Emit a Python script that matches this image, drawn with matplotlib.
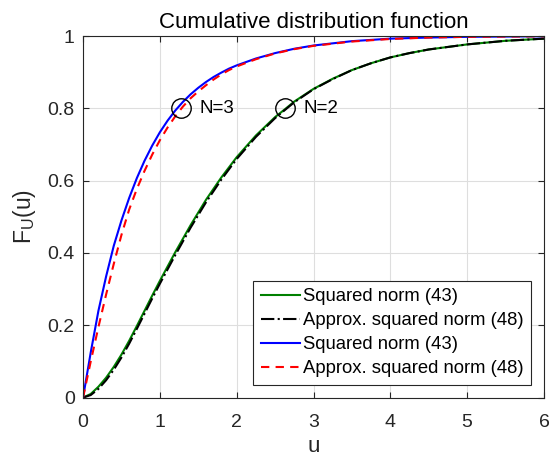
import matplotlib
matplotlib.use("Agg")
import matplotlib.pyplot as plt

plt.rcParams['font.family'] = ['Liberation Sans', 'DejaVu Sans']
plt.rcParams['mathtext.fontset'] = 'custom'
plt.rcParams['mathtext.rm'] = 'Liberation Sans'

# N = 3 curves
u_n3 = [0, 0.1, 0.2, 0.3, 0.4, 0.5, 0.6, 0.7, 0.8, 0.9, 1.0, 1.1, 1.2, 1.3, 1.4, 1.5,
        1.6, 1.7, 1.8, 1.9, 2.0, 2.25, 2.5, 2.75, 3.0, 3.5, 4.0, 4.5, 5.0, 6.0]
exact_n3 = [0, 0.125, 0.24, 0.335, 0.42, 0.49, 0.552, 0.607, 0.655, 0.697, 0.734, 0.766,
            0.794, 0.818, 0.839, 0.857, 0.873, 0.887, 0.899, 0.91, 0.919, 0.938, 0.953,
            0.965, 0.974, 0.986, 0.993, 0.996, 0.998, 0.9995]
approx_n3 = [0, 0.10, 0.195, 0.285, 0.37, 0.45, 0.52, 0.577, 0.627, 0.672, 0.712, 0.747,
             0.778, 0.805, 0.828, 0.847, 0.864, 0.88, 0.894, 0.906, 0.916, 0.936, 0.952,
             0.964, 0.973, 0.985, 0.992, 0.996, 0.998, 0.9995]

# N = 2 curves
u_n2 = [0, 0.1, 0.2, 0.3, 0.4, 0.5, 0.6, 0.7, 0.8, 0.9, 1.0, 1.2, 1.4, 1.6, 1.8, 2.0,
        2.25, 2.5, 2.63, 2.75, 3.0, 3.25, 3.5, 3.75, 4.0, 4.25, 4.5, 5.0, 5.5, 6.0]
exact_n2 = [0, 0.01, 0.03, 0.055, 0.085, 0.119, 0.157, 0.198, 0.24, 0.282, 0.323, 0.402,
            0.477, 0.547, 0.609, 0.665, 0.725, 0.776, 0.798, 0.819, 0.854, 0.882, 0.906,
            0.925, 0.941, 0.953, 0.963, 0.977, 0.987, 0.993]
approx_n2 = [0, 0.007, 0.024, 0.048, 0.077, 0.111, 0.149, 0.19, 0.232, 0.274, 0.315, 0.394,
             0.47, 0.54, 0.603, 0.66, 0.721, 0.773, 0.796, 0.817, 0.853, 0.881, 0.906,
             0.925, 0.941, 0.953, 0.963, 0.977, 0.987, 0.993]

marker_u = [1.27, 2.63]
marker_f = [0.8, 0.8]
marker_labels = ['N=3', 'N=2']

xticks = [0, 1, 2, 3, 4, 5, 6]
yticks = [0, 0.2, 0.4, 0.6, 0.8, 1]
ytick_labels = ['0', '0.2', '0.4', '0.6', '0.8', '1']
legend_labels = ['Squared norm (43)', 'Approx. squared norm (48)',
                 'Squared norm (43)', 'Approx. squared norm (48)']

axc = (0.15, 0.15, 0.15)
fig = plt.figure(figsize=(5.5, 4.57), dpi=100)
ax = fig.add_axes([0.151, 0.130, 0.838, 0.791])

ax.plot(u_n2, exact_n2, color=(0, 0.5, 0), lw=1.5, label=legend_labels[0])
ax.plot(u_n2, approx_n2, color='black', lw=1.5, ls='-.', label=legend_labels[1])
ax.plot(u_n3, exact_n3, color='blue', lw=1.5, label=legend_labels[2])
ax.plot(u_n3, approx_n3, color='red', lw=1.5, ls=(0, (4, 3)), label=legend_labels[3])

ax.plot(marker_u, marker_f, 'o', ms=14, mfc='none', mec='black', mew=1.0, ls='none')
for xu, yf, t in zip(marker_u, marker_f, marker_labels):
    ax.text(xu + 0.24, yf, t, fontsize=13.5, va='center', ha='left', color='black')

ax.set_xlim(0, 6)
ax.set_ylim(0, 1)
ax.set_xticks(xticks)
ax.set_xticklabels([str(v) for v in xticks])
ax.set_yticks(yticks)
ax.set_yticklabels(ytick_labels)
ax.grid(True, color=(0.87, 0.87, 0.87), lw=0.8)
ax.set_axisbelow(True)
ax.tick_params(direction='in', length=4, width=0.8, colors=axc, labelsize=14,
               top=True, right=True)
ax.tick_params(axis='x', pad=12)
ax.tick_params(axis='y', pad=6)
for s in ax.spines.values():
    s.set_color(axc)
    s.set_linewidth(0.8)

ax.set_title('Cumulative distribution function', fontsize=16, color='black', pad=6)
ax.set_xlabel('u', fontsize=16, color=axc, labelpad=3.5)
ax.set_ylabel(r'F$_\mathregular{U}$(u)', fontsize=16.5, color=axc, labelpad=7)

leg = ax.legend(loc='lower right', fontsize=13.3, frameon=True, fancybox=False,
                framealpha=1, edgecolor=axc, handlelength=2.15, handletextpad=0.15,
                labelspacing=0.38, borderaxespad=0.7, borderpad=0.4)
leg.get_frame().set_linewidth(0.8)

fig.savefig('out.png', dpi=100)
